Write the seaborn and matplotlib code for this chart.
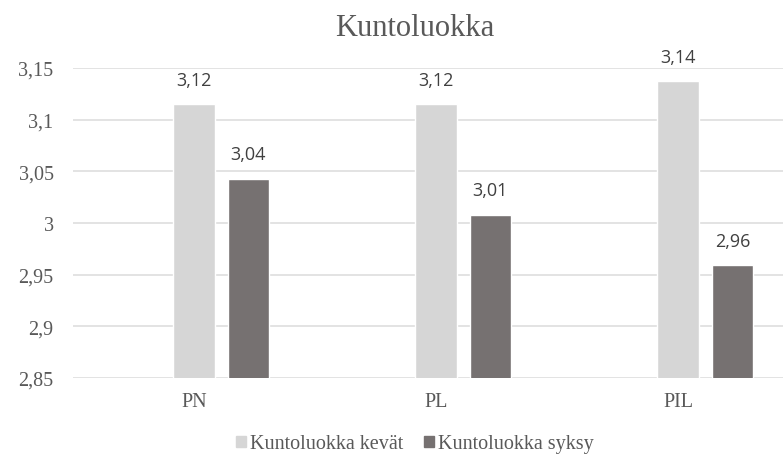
import matplotlib
matplotlib.use("Agg")
import matplotlib.pyplot as plt
from matplotlib.patches import Patch
import seaborn as sns
import pandas as pd

# data
groups = ["PN", "PL", "PIL"]
kevat = [3.115, 3.115, 3.137]
syksy = [3.043, 3.008, 2.959]
series = ["Kuntoluokka kevät", "Kuntoluokka syksy"]
yticks = [2.85, 2.9, 2.95, 3.0, 3.05, 3.1, 3.15]

df = pd.DataFrame({
    "ryhma": groups * 2,
    "sarja": [series[0]] * 3 + [series[1]] * 3,
    "arvo": kevat + syksy,
})

sns.set_style("white")
plt.rcParams["font.family"] = ["Liberation Serif", "DejaVu Serif"]

light = "#d6d6d6"
dark = "#767171"
txt = "#595959"
serif = ["Liberation Serif", "DejaVu Serif"]

fig = plt.figure(figsize=(7.83, 4.56), dpi=100)
ax = fig.add_axes([73 / 783, 1 - 379 / 456, 710 / 783, 310 / 456])

# empty first hue slot keeps the light bar centred on the category
sns.barplot(data=df, x="ryhma", y="arvo", hue="sarja",
            hue_order=["", series[0], series[1]],
            palette={"": "white", series[0]: light, series[1]: dark},
            width=0.675, gap=0.24, errorbar=None, legend=False,
            saturation=1, ax=ax)

ax.set_ylim(2.85, 3.15)
ax.set_xlim(-0.5, 2.434)
ax.set_yticks(yticks)
ax.set_yticklabels([("%g" % v).replace(".", ",") for v in yticks])
ax.yaxis.grid(True, color="#dedede", linewidth=1.2)
ax.set_axisbelow(True)
for s in ax.spines.values():
    s.set_visible(False)
ax.tick_params(axis="both", length=0, labelsize=14.5, colors=txt)
ax.tick_params(axis="y", pad=14)
ax.tick_params(axis="x", pad=10)
for lab in ax.get_xticklabels() + ax.get_yticklabels():
    lab.set_family(serif)
ax.set_xlabel("")
ax.set_ylabel("")

for c in ax.containers:
    for bar in c:
        h = bar.get_height()
        if h != h or h <= 2.85:
            continue
        ax.annotate(("%.2f" % h).replace(".", ","),
                    (bar.get_x() + bar.get_width() / 2, h),
                    xytext=(0, 11), textcoords="offset points",
                    ha="center", va="bottom", fontsize=13,
                    family=["Open Sans", "DejaVu Sans"], color="#404040")

fig.text(415 / 783, 1 - 28 / 456, "Kuntoluokka", ha="center", va="center",
         fontsize=22, color=txt, family=serif)

handles = [Patch(color=light), Patch(color=dark)]
fig.legend(handles, series, loc="center", bbox_to_anchor=(415 / 783, 1 - 445 / 456),
           ncol=2, frameon=False, prop={"family": serif, "size": 14.5},
           handlelength=0.5, handleheight=0.5,
           handletextpad=0.2, columnspacing=1.0, labelcolor=txt)

fig.savefig("out.png", dpi=100)
